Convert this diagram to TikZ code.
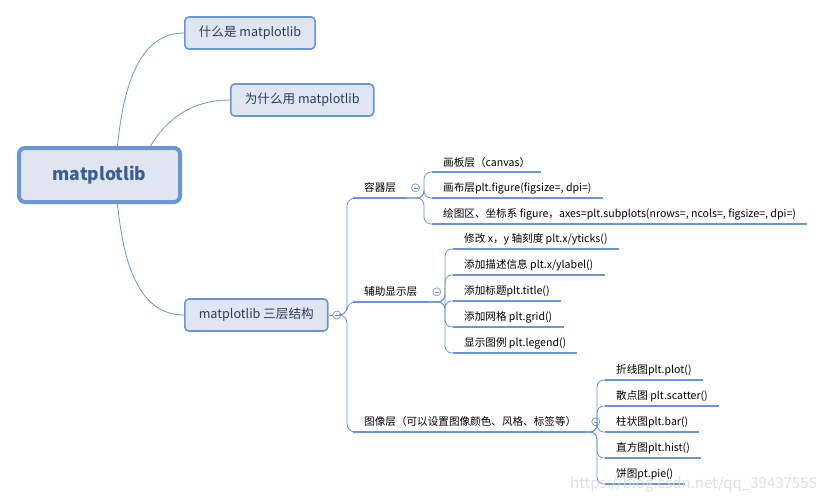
\documentclass[tikz,border=0pt]{standalone}
\usepackage{fontspec}
\setmainfont{Noto Sans CJK SC}
\usetikzlibrary{positioning}
\definecolor{mapblue}{HTML}{6A96D3}
\definecolor{mapfill}{HTML}{DFE6F1}
\definecolor{maptext}{HTML}{2C3B57}
\definecolor{roottext}{HTML}{3D5C8F}

\tikzset{
  rootbox/.style={draw=mapblue, line width=4pt, fill=mapfill, rounded corners=6pt,
    minimum width=161pt, minimum height=54pt, font=\fontsize{17.5}{19}\selectfont\bfseries, text=roottext},
  topic/.style={draw=mapblue, line width=1.6pt, fill=mapfill, rounded corners=4pt,
    minimum height=32pt, inner xsep=14pt, font=\fontsize{12.6}{14}\selectfont, text=maptext, anchor=west},
  subtopic/.style={inner xsep=11pt, inner ysep=2pt, minimum height=20pt, anchor=south west,
    font=\fontsize{10.6}{12}\selectfont},
  leaf/.style={subtopic, minimum height=19pt},
  branch/.style={draw=mapblue, line width=0.8pt},
  uline/.style={draw=mapblue, line width=2pt},
  fold/.style={circle, draw=mapblue, fill=white, line width=0.7pt, minimum size=8pt, inner sep=0pt,
    path picture={\draw[mapblue, line width=0.6pt] ([xshift=-2pt]path picture bounding box.center) -- ([xshift=2pt]path picture bounding box.center);}},
}

\begin{document}
\begin{tikzpicture}[x=1pt, y=-1pt]
  \useasboundingbox[fill=white] (0,0) rectangle (824,501);

  % centre and first level
  \node[rootbox] (root) at (99.5,175) {matplotlib};
  \node[topic] (what) at (184,33) {什么是 matplotlib};
  \node[topic] (why) at (230,100) {为什么用 matplotlib};
  \node[topic] (layers) at (184,315) {matplotlib 三层结构};
  \node[fold, right=4pt of layers] (layersfold) {};

  \draw[branch] ([xshift=18pt]root.north) .. controls +(6,-60) and +(-45,0) .. (what.west);
  \draw[branch] ([xshift=51pt]root.north) .. controls +(15,-25) and +(-40,0) .. (why.west);
  \draw[branch] ([xshift=18pt]root.south) .. controls +(6,60) and +(-45,0) .. (layers.west);
  \draw[branch] (layers) -- (layersfold);

  % second level
  \node[subtopic] (container) at (353,198) {容器层};
  \node[subtopic] (helper) at (353,302) {辅助显示层};
  \node[subtopic] (artist) at (353,432) {图像层（可以设置图像颜色、风格、标签等）};
  \foreach \n in {container, helper, artist}{
    \draw[uline] (\n.south west) -- (\n.south east);
    \draw[branch, rounded corners=8pt] (layersfold.east) -| ([xshift=-6pt]\n.south west) -- (\n.south west);
    \node[fold, right=4pt of \n] (f\n) {};
  }

  % leaves
  \foreach \txt [count=\i] in {画板层（canvas）, {画布层plt.figure(figsize=, dpi=)},
      {绘图区、坐标系 figure，axes=plt.subplots(nrows=, ncols=, figsize=, dpi=)}}{
    \node[leaf] (container-\i) at (432,146+26*\i) {\txt};
    \draw[uline] (container-\i.south west) -- (container-\i.south east);
    \draw[branch, rounded corners=7pt] (container.south east) -| ([xshift=-8pt]container-\i.south west) -- (container-\i.south west);
  }
  \foreach \txt [count=\i] in {修改 x，y 轴刻度 plt.x/yticks(), 添加描述信息 plt.x/ylabel(),
      添加标题plt.title(), 添加网格 plt.grid(), 显示图例 plt.legend()}{
    \node[leaf] (helper-\i) at (453,223+26*\i) {\txt};
    \draw[uline] (helper-\i.south west) -- (helper-\i.south east);
    \draw[branch, rounded corners=7pt] (helper.south east) -| ([xshift=-8pt]helper-\i.south west) -- (helper-\i.south west);
  }
  \foreach \txt [count=\i] in {折线图plt.plot(), 散点图 plt.scatter(), 柱状图plt.bar(),
      直方图plt.hist(), 饼图pt.pie()}{
    \node[leaf] (artist-\i) at (605,354+26*\i) {\txt};
    \draw[uline] (artist-\i.south west) -- (artist-\i.south east);
    \draw[branch, rounded corners=7pt] (artist.south east) -| ([xshift=-8pt]artist-\i.south west) -- (artist-\i.south west);
  }

  \node[text=gray!30, opacity=0.8, font=\fontsize{15}{17}\selectfont, anchor=west, inner sep=0pt] (mark) at (570,484) {https://blog.csdn.net/qq\_39437555};
\end{tikzpicture}
\end{document}
